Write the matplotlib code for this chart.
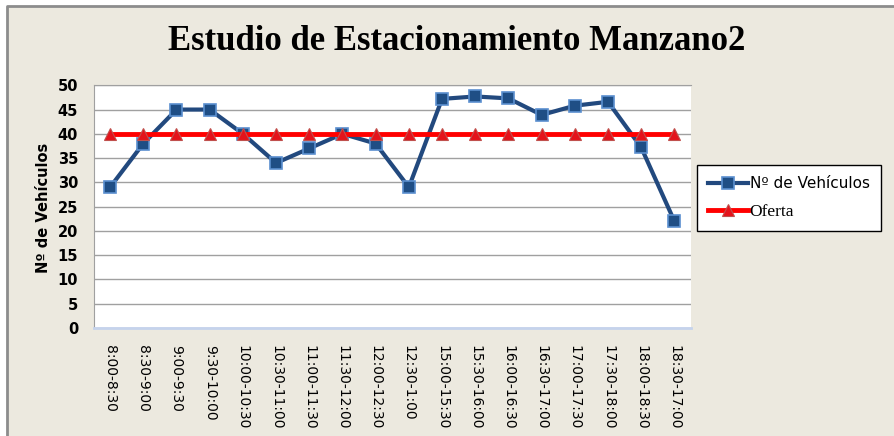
import numpy as np
import matplotlib.pyplot as plt
from matplotlib.patches import Rectangle
from matplotlib.lines import Line2D

# datos del estudio
horarios = ["8:00-8:30", "8:30-9:00", "9:00-9:30", "9:30-10:00", "10:00-10:30",
            "10:30-11:00", "11:00-11:30", "11:30-12:00", "12:00-12:30", "12:30-1:00",
            "15:00-15:30", "15:30-16:00", "16:00-16:30", "16:30-17:00", "17:00-17:30",
            "17:30-18:00", "18:00-18:30", "18:30-17:00"]
vehiculos = [29, 38, 45, 45, 40, 34, 37, 40, 38, 29,
             47.2, 47.7, 47.3, 43.9, 45.8, 46.6, 37.2, 22]
oferta = [40] * len(horarios)

W, H = 894, 436
fig = plt.figure(figsize=(W / 100, H / 100), dpi=100)
fig.patch.set_facecolor("white")

# fondo del grafico, borde gris solo arriba e izquierda
x0, y0 = 7 / W, 1 - 6 / H
fig.patches.append(Rectangle((x0, 0), 1 - x0, y0, transform=fig.transFigure,
                             facecolor="#ECE9DF", edgecolor="none", zorder=-10))
fig.lines.append(Line2D([x0, x0, 1], [0, y0, y0], transform=fig.transFigure,
                        color="#8C8C8C", linewidth=2, zorder=-9))

ax = fig.add_axes([93.5 / W, 1 - 328 / H, (691 - 93.5) / W, (328 - 85.3) / H])
ax.set_facecolor("white")

x = np.arange(len(horarios))
ax.plot(x, vehiculos, color="#22497E", linewidth=3, marker="s", markersize=8,
        markerfacecolor="#1F4E85", markeredgecolor="#5B8FCF", markeredgewidth=1.2,
        label="Nº de Vehículos", zorder=3)
ax.plot(x, oferta, color="#FF0000", linewidth=3.5, marker="^", markersize=9,
        markerfacecolor="#E4131B", markeredgecolor="#C0504D", markeredgewidth=0.8,
        label="Oferta", zorder=4)

ax.set_xlim(-0.5, len(horarios) - 0.5)
ax.set_ylim(0, 50)
ax.set_yticks(range(0, 51, 5))
ax.yaxis.grid(True, color="#A0A0A0", linewidth=1)
ax.set_axisbelow(True)
ax.tick_params(axis="both", length=0)
ax.tick_params(axis="y", pad=11)
ax.tick_params(axis="x", pad=12)
for lbl in ax.get_yticklabels():
    lbl.set_fontweight("bold")
    lbl.set_fontsize(10.5)
ax.set_xticks(x)
ax.set_xticklabels(horarios, rotation=270, fontsize=10, va="top", ha="center")

ax.spines["left"].set_color("#A0A0A0")
ax.spines["top"].set_color("#A0A0A0")
ax.spines["right"].set_visible(False)
ax.spines["bottom"].set_color("#C5D3EC")
ax.spines["bottom"].set_linewidth(2)

fig.text(43 / W, 1 - 208 / H, "Nº de Vehículos", rotation=90, fontsize=10.5,
         fontweight="bold", ha="center", va="center")

fig.text(457 / W, 1 - 42 / H, "Estudio de Estacionamiento Manzano2", ha="center", va="center",
         fontsize=25, fontweight="bold", family="Liberation Serif")

leg = fig.legend(loc="upper left", bbox_to_anchor=(697 / W, 1 - 165 / H), frameon=True,
                 fancybox=False, edgecolor="black", facecolor="white", framealpha=1,
                 handlelength=2.6, handletextpad=0.1, labelspacing=0.8, borderpad=0.75,
                 borderaxespad=0, fontsize=11)
leg.get_frame().set_linewidth(1)
leg.get_texts()[1].set_family("Liberation Serif")
leg.get_texts()[1].set_fontsize(12.5)

fig.savefig("out.png", dpi=100)
